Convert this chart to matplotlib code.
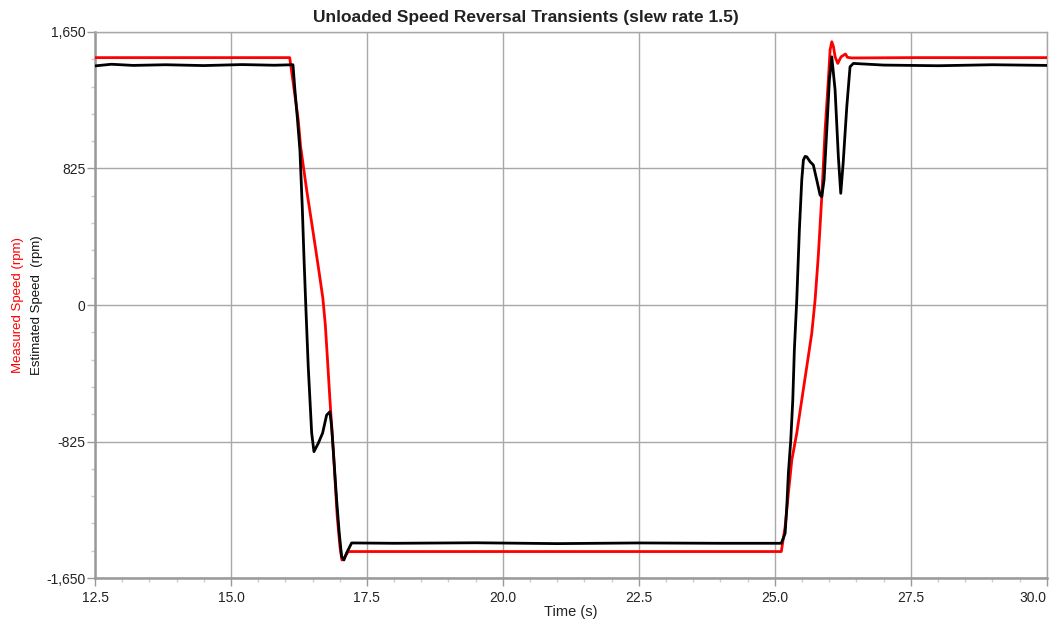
import matplotlib.pyplot as plt
from matplotlib.ticker import MultipleLocator, FuncFormatter

plt.rcParams["font.family"] = ["Liberation Sans", "DejaVu Sans"]

# measured speed trace (rpm)
measured_t = [12.5, 14.0, 15.5, 16.08, 16.145, 16.237, 16.281, 16.392, 16.513, 16.623,
              16.69, 16.735, 16.775, 16.820, 16.881, 16.954, 17.004, 17.040, 17.096, 17.156,
              18.5, 20.0, 22.0, 24.0, 25.12, 25.19, 25.25, 25.313, 25.404, 25.496,
              25.588, 25.68, 25.741, 25.801, 25.864, 25.925, 25.985, 26.017, 26.048,
              26.08, 26.109, 26.158, 26.219, 26.300, 26.335, 26.415, 27.5, 29.0, 30.0]
measured_rpm = [1495, 1495, 1495, 1495, 1341, 1118, 956, 695, 435, 193,
                40, -120, -330, -574, -876, -1279, -1460, -1541, -1521, -1490,
                -1490, -1490, -1490, -1490, -1490, -1340, -1138, -937, -775, -574,
                -373, -171, 30, 300, 654, 1057, 1360, 1541, 1591,
                1560, 1500, 1460, 1500, 1517, 1497, 1493, 1495, 1495, 1495]

# estimated speed trace (rpm)
estimated_t = [12.5, 12.8, 13.2, 13.8, 14.5, 15.2, 15.8, 16.14, 16.176, 16.219, 16.268,
               16.311, 16.342, 16.379, 16.421, 16.484, 16.526, 16.605, 16.686, 16.759,
               16.820, 16.851, 16.881, 16.943, 16.991, 17.035, 17.077, 17.127, 17.219,
               18.0, 19.5, 21.0, 22.5, 24.0, 25.12, 25.19, 25.221, 25.25, 25.294,
               25.331, 25.36, 25.404, 25.452, 25.496, 25.526, 25.558, 25.588, 25.649, 25.709,
               25.772, 25.833, 25.864, 25.906, 25.956, 26.004, 26.048, 26.109, 26.169,
               26.213, 26.257, 26.324, 26.384, 26.445, 27.0, 28.0, 29.0, 30.0]
estimated_rpm = [1445, 1455, 1448, 1452, 1447, 1453, 1449, 1452, 1299, 1138, 936,
                 594, 292, -30, -373, -773, -886, -836, -773, -665,
                 -645, -735, -876, -1178, -1378, -1521, -1541, -1498, -1438,
                 -1440, -1437, -1442, -1438, -1440, -1440, -1380, -1219, -1017, -816,
                 -574, -272, 30, 453, 755, 876, 898, 896, 866, 846,
                 755, 665, 654, 755, 1057, 1360, 1500, 1299, 896,
                 675, 856, 1198, 1440, 1460, 1450, 1446, 1452, 1448]

x_ticks = [12.5, 15.0, 17.5, 20.0, 22.5, 25.0, 27.5, 30.0]
y_ticks = [-1650, -825, 0, 825, 1650]

fig = plt.figure(figsize=(10.51, 6.21), dpi=100)
ax = fig.add_axes([0.0904, 0.0692, 0.9055, 0.8793])

ax.plot(measured_t, measured_rpm, color="#ff0000", lw=2.0, zorder=3)
ax.plot(estimated_t, estimated_rpm, color="#000000", lw=2.0, zorder=4)

ax.set_xlim(12.5, 30.0)
ax.set_ylim(-1650, 1650)
ax.set_xticks(x_ticks)
ax.set_yticks(y_ticks)
ax.xaxis.set_minor_locator(MultipleLocator(0.5))
ax.yaxis.set_minor_locator(MultipleLocator(165))
ax.xaxis.set_major_formatter(FuncFormatter(lambda v, p: f"{v:.1f}"))
ax.yaxis.set_major_formatter(FuncFormatter(lambda v, p: f"{v:,.0f}"))

ax.grid(True, which="major", color="#a8a8a8", lw=1.0)
ax.tick_params(which="major", length=6, width=1, color="#999999", labelsize=10,
               labelcolor="#222222")
ax.tick_params(axis="x", which="major", pad=3)
ax.tick_params(axis="y", which="major", pad=1)
ax.tick_params(which="minor", length=3, width=1, color="#cccccc")

# keep the last x label inside the figure
ax.get_xticklabels()[-1].set_horizontalalignment("right")
ax.get_xticklabels()[-1].set_x(30.0)

for side in ["top", "right"]:
    ax.spines[side].set_color("#a8a8a8")
    ax.spines[side].set_linewidth(1.0)
for side in ["left", "bottom"]:
    ax.spines[side].set_color("#999999")
    ax.spines[side].set_linewidth(1.8)

fig.text(0.5, 0.972, "Unloaded Speed Reversal Transients (slew rate 1.5)", fontsize=12.5,
         fontweight="bold", color="#222222", ha="center", va="center")
ax.set_xlabel("Time (s)", fontsize=10.5, color="#222222", labelpad=0)

fig.text(0.017, 0.509, "Measured Speed (rpm)", rotation=90, color="#ff0000",
         fontsize=9.5, ha="center", va="center")
fig.text(0.035, 0.509, "Estimated Speed  (rpm)", rotation=90, color="#111111",
         fontsize=9.5, ha="center", va="center")

fig.savefig("out.png", dpi=100)
